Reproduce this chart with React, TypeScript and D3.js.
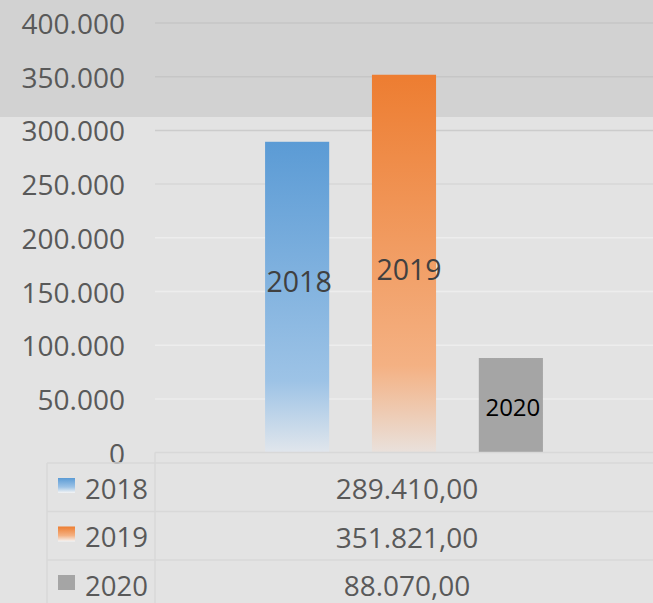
import React from "react";
import * as d3 from "d3";

const categories = ["2018", "2019", "2020"];
const values = [289410, 351821, 88070];
const labelAt = [159800, 171000, 42500];
const yTicks = [0, 50000, 100000, 150000, 200000, 250000, 300000, 350000, 400000];
const topColors = ["#5b9bd5", "#ed7d31", "#a5a5a5"];
const midColors = ["#9dc3e6", "#f4b183", "#a5a5a5"];
const endColors = ["#e1e6ec", "#e9e1dc", "#a5a5a5"];
const labelColors = ["#404040", "#404040", "#000000"];

const W = 653;
const H = 603;
const FONT = "'Open Sans', 'Noto Sans', sans-serif";

const locale = d3.formatLocale({ decimal: ",", thousands: ".", grouping: [3], currency: ["", ""] });
const fmtAxis = locale.format(",.0f");
const fmtVal = locale.format(",.2f");

export default function App() {
  const plotLeft = 155;
  const plotRight = 653;
  const y = d3.scaleLinear().domain([0, 400000]).range([452.6, 23]);
  const x = d3.scaleBand<string>().domain(categories).range([plotLeft, plotRight]).paddingInner(0.4).paddingOuter(1.03);
  const tableTop = 463;
  const rowH = 48.5;
  const tableLeft = 47;
  const colX = plotLeft;
  const valCenter = (plotLeft + plotRight) / 2 + 3;

  const gridColor = (v: number) =>
    v >= 350000 ? "#c6c6c6" : v === 300000 ? "#cccccc" : v === 250000 ? "#d7d7d7" : v === 0 ? "#d8d8d8" : "#ededed";

  return (
    <svg width={W} height={H} style={{ position: "absolute", left: 0, top: 0 }} fontFamily={FONT}>
      <defs>
        {categories.map((c, i) => (
          <linearGradient key={c} id={`g${i}`} x1="0" y1="0" x2="0" y2="1">
            <stop offset="0" stopColor={topColors[i]} />
            <stop offset="0.77" stopColor={midColors[i]} />
            <stop offset="1" stopColor={endColors[i]} />
          </linearGradient>
        ))}
        {categories.map((c, i) => (
          <linearGradient key={c} id={`k${i}`} x1="0" y1="0" x2="0" y2="1">
            <stop offset="0" stopColor={topColors[i]} />
            <stop offset="0.6" stopColor={midColors[i]} />
            <stop offset="1" stopColor={i === 2 ? "#a5a5a5" : "#f5f5f5"} />
          </linearGradient>
        ))}
      </defs>
      <rect x={0} y={0} width={W} height={H} fill="#e3e3e3" />
      <rect x={0} y={0} width={W} height={117} fill="#d2d2d2" />

      {yTicks.map((t) => (
        <g key={t}>
          {t !== 0 && (
            <line x1={plotLeft} x2={plotRight} y1={y(t)} y2={y(t)} stroke={gridColor(t)} strokeWidth={1.5} />
          )}
          <text x={125} y={y(t)} textAnchor="end" dominantBaseline="central" fontSize={28} fill="#595959">
            {fmtAxis(t)}
          </text>
        </g>
      ))}

      {categories.map((c, i) => (
        <rect
          key={c}
          x={x(c)}
          width={x.bandwidth()}
          y={y(values[i])}
          height={y(0) - y(values[i])}
          fill={`url(#g${i})`}
        />
      ))}
      {categories.map((c, i) => (
        <text
          key={c}
          x={(x(c) as number) + x.bandwidth() / 2 + (i === 1 ? 5 : 2)}
          y={y(labelAt[i])}
          textAnchor="middle"
          dominantBaseline="central"
          fontSize={i === 2 ? 24 : 28.5}
          fill={labelColors[i]}
        >
          {c}
        </text>
      ))}

      {/* data table */}
      <line x1={plotLeft} x2={plotRight} y1={y(0)} y2={y(0)} stroke="#d8d8d8" strokeWidth={1.5} />
      <line x1={colX} x2={colX} y1={y(0)} y2={H} stroke="#d8d8d8" strokeWidth={1.5} />
      <line x1={tableLeft} x2={tableLeft} y1={tableTop} y2={H} stroke="#d8d8d8" strokeWidth={1.5} />
      {categories.map((c, i) => (
        <line
          key={c}
          x1={tableLeft}
          x2={plotRight}
          y1={tableTop + i * rowH}
          y2={tableTop + i * rowH}
          stroke="#d8d8d8"
          strokeWidth={1.5}
        />
      ))}
      {categories.map((c, i) => {
        const cy = tableTop + i * rowH + rowH / 2;
        return (
          <g key={c}>
            <rect x={58} y={tableTop + i * rowH + 15} width={17} height={15} fill={`url(#k${i})`} />
            <text x={85} y={cy + 1} dominantBaseline="central" fontSize={27.5} fill="#595959">
              {c}
            </text>
            <text x={valCenter} y={cy + 1} textAnchor="middle" dominantBaseline="central" fontSize={28} fill="#595959">
              {fmtVal(values[i])}
            </text>
          </g>
        );
      })}
    </svg>
  );
}
